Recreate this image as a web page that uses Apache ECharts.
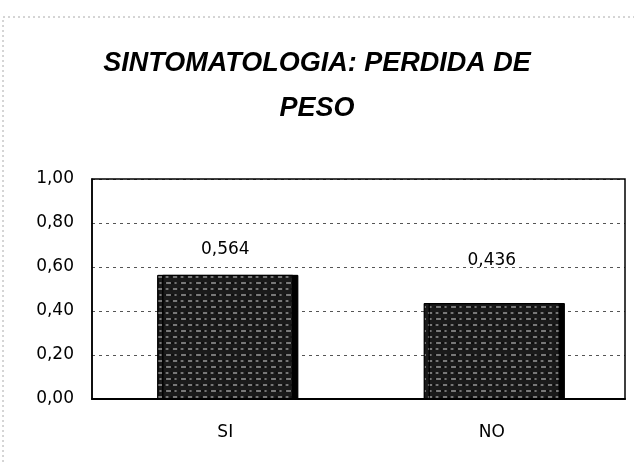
<!DOCTYPE html>
<html>
<head>
<meta charset="utf-8">
<script src="https://cdn.jsdelivr.net/npm/echarts@6/dist/echarts.min.js"></script>
<style>
  html, body { margin: 0; padding: 0; background: #fff; }
  #main { width: 634px; height: 464px; }
</style>
</head>
<body>
<div id="main"></div>
<script>
var categories = ['SI', 'NO'];
var values = [0.564, 0.436];
var labelGaps = [17, 34];

var chart = echarts.init(document.getElementById('main'));

function comma(v, d) {
  return v.toFixed(d).replace('.', ',');
}

var option = {
  backgroundColor: '#fff',
  animation: false,
  title: {
    text: 'SINTOMATOLOGIA: PERDIDA DE\nPESO',
    left: 'center',
    top: 36,
    textStyle: {
      fontFamily: 'Liberation Sans',
      fontStyle: 'italic',
      fontWeight: 'bold',
      fontSize: 27,
      lineHeight: 45,
      color: '#000'
    }
  },
  graphic: [{
    type: 'rect',
    shape: { x: 3, y: 17, width: 640, height: 460 },
    style: { fill: 'none', stroke: '#aaa', lineWidth: 1, lineDash: [2, 3] },
    silent: true
  }, {
    // plot area frame
    type: 'rect',
    shape: { x: 92, y: 179, width: 533, height: 220 },
    style: { fill: 'none', stroke: '#000', lineWidth: 1.5 },
    silent: true,
    z: 5
  }],
  grid: { left: 92, right: 9, top: 179, bottom: 65 },
  xAxis: {
    type: 'category',
    data: categories,
    axisLine: { show: true, lineStyle: { color: '#000', width: 2 } },
    axisTick: { show: false },
    axisLabel: {
      margin: 25,
      fontFamily: 'DejaVu Sans',
      fontSize: 17,
      color: '#000'
    }
  },
  yAxis: {
    type: 'value',
    min: 0,
    max: 1,
    interval: 0.2,
    axisLine: { show: true, lineStyle: { color: '#000', width: 1.5 } },
    axisTick: { show: false },
    axisLabel: {
      margin: 18,
      fontFamily: 'DejaVu Sans',
      fontSize: 17,
      color: '#000',
      formatter: function (v) { return comma(v, 2); }
    },
    splitLine: { show: true, lineStyle: { color: '#555', type: [3, 4], width: 1 } }
  },
  series: [{
    type: 'bar',
    barWidth: '51%',
    data: values.map(function (v, i) {
      return {
        value: v,
        label: { distance: labelGaps[i] }
      };
    }),
    itemStyle: {
      color: '#1a1a1a',
      borderColor: '#000',
      borderWidth: 1,
      shadowColor: '#000',
      shadowOffsetX: 5,
      shadowBlur: 0,
      decal: {
        symbol: 'rect',
        symbolSize: 0.7,
        color: 'rgba(255,255,255,0.6)',
        dashArrayX: [[7, 2, 3, 3], [4, 3, 6, 2]],
        dashArrayY: [2, 4],
        rotation: 0
      }
    },
    label: {
      show: true,
      position: 'top',
      fontFamily: 'DejaVu Sans',
      fontSize: 17,
      color: '#000',
      formatter: function (p) { return comma(p.value, 3); }
    }
  }]
};

chart.setOption(option);
</script>
</body>
</html>
